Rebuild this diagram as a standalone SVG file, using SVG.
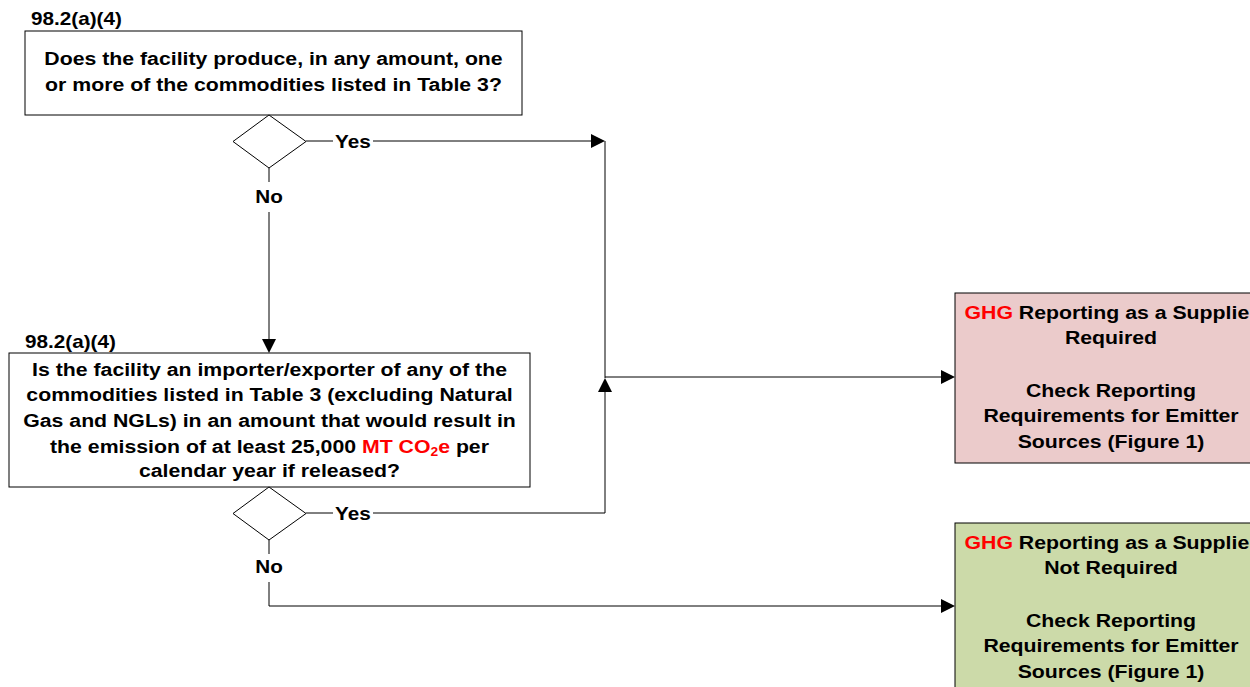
<svg xmlns="http://www.w3.org/2000/svg" width="1250" height="687" viewBox="0 0 1250 687">
<style>
  text { font-family: "Liberation Sans", Arial, sans-serif; font-weight: bold; font-size: 18.5px; fill: #000; }
  .c { text-anchor: middle; }
  .lbl { font-size: 18px; }
  .red { fill: #FF0000; }
  .box { fill: #FFFFFF; stroke: #000; stroke-width: 1; }
  .dia { fill: #FFFFFF; stroke: #000; stroke-width: 1; }
  .ln { fill: none; stroke: #000; stroke-width: 1; }
  .head { fill: #000; stroke: none; }
</style>
<rect width="1250" height="687" fill="#FFFFFF"/>

<g id="connectors">
  <!-- Q1 yes -->
  <polyline class="ln" points="306,141 333,141"/>
  <polyline class="ln" points="373,141 592,141"/>
  <polygon class="head" points="605,141 591,134 591,148"/>
  <!-- Q1 no -->
  <polyline class="ln" points="269,168 269,182"/>
  <polyline class="ln" points="269,212 269,341"/>
  <polygon class="head" points="269,353 262,339 276,339"/>
  <!-- vertical merge -->
  <polyline class="ln" points="605,141 605,378"/>
  <!-- Q2 yes -->
  <polyline class="ln" points="306,513 333,513"/>
  <polyline class="ln" points="373,513 605,513 605,390"/>
  <polygon class="head" points="605,378 598,392 612,392"/>
  <!-- to required -->
  <polyline class="ln" points="605,377 942,377"/>
  <polygon class="head" points="955,377 941,370 941,384"/>
  <!-- Q2 no -->
  <polyline class="ln" points="269,540 269,554"/>
  <polyline class="ln" points="269,582 269,606 942,606"/>
  <polygon class="head" points="955,606 941,599 941,613"/>
  <!-- labels -->
  <g transform="translate(335 0) scale(1.15 1)"><text class="lbl" x="0" y="148">Yes</text></g>
  <g transform="translate(269 0) scale(1.15 1)"><text class="lbl c" x="0" y="203">No</text></g>
  <g transform="translate(335 0) scale(1.15 1)"><text class="lbl" x="0" y="520">Yes</text></g>
  <g transform="translate(269 0) scale(1.15 1)"><text class="lbl c" x="0" y="573">No</text></g>
</g>

<g id="q1">
  <g transform="translate(31 0) scale(1.15 1)"><text class="lbl" x="0" y="25">98.2(a)(4)</text></g>
  <rect class="box" x="25" y="31" width="497" height="84"/>
  <g transform="translate(273.5 0) scale(1.15 1)">
    <text class="c" x="0" y="65">Does the facility produce, in any amount, one</text>
    <text class="c" x="0" y="91">or more of the commodities listed in Table 3?</text>
  </g>
</g>

<g id="d1">
  <polygon class="dia" points="269,115 306,141.5 269,168 233,141.5"/>
</g>

<g id="q2">
  <g transform="translate(25 0) scale(1.15 1)"><text class="lbl" x="0" y="348">98.2(a)(4)</text></g>
  <rect class="box" x="9" y="353" width="521" height="134"/>
  <g transform="translate(269.5 0) scale(1.15 1)">
    <text class="c" x="0" y="376">Is the facility an importer/exporter of any of the</text>
    <text class="c" x="0" y="401">commodities listed in Table 3 (excluding Natural</text>
    <text class="c" x="0" y="427">Gas and NGLs) in an amount that would result in</text>
    <text class="c" x="0" y="453">the emission of at least 25,000 <tspan class="red">MT CO</tspan><tspan class="red" font-size="12" dy="3">2</tspan><tspan class="red" dy="-3">e</tspan> per</text>
    <text class="c" x="0" y="477">calendar year if released?</text>
  </g>
</g>

<g id="d2">
  <polygon class="dia" points="269,487 306,513.5 269,540 233,513.5"/>
</g>

<g id="required">
  <rect x="955" y="293" width="312" height="170" fill="#EBCBCB" stroke="#000" stroke-width="1"/>
  <g transform="translate(1111 0) scale(1.15 1)">
    <text class="c" x="0" y="319"><tspan class="red">GHG</tspan> Reporting as a Supplier</text>
    <text class="c" x="0" y="344">Required</text>
    <text class="c" x="0" y="397">Check Reporting</text>
    <text class="c" x="0" y="422">Requirements for Emitter</text>
    <text class="c" x="0" y="448">Sources (Figure 1)</text>
  </g>
</g>

<g id="not-required">
  <rect x="955" y="523" width="312" height="180" fill="#CCDAA9" stroke="#000" stroke-width="1"/>
  <g transform="translate(1111 0) scale(1.15 1)">
    <text class="c" x="0" y="549"><tspan class="red">GHG</tspan> Reporting as a Supplier</text>
    <text class="c" x="0" y="574">Not Required</text>
    <text class="c" x="0" y="627">Check Reporting</text>
    <text class="c" x="0" y="652">Requirements for Emitter</text>
    <text class="c" x="0" y="678">Sources (Figure 1)</text>
  </g>
</g>
</svg>
